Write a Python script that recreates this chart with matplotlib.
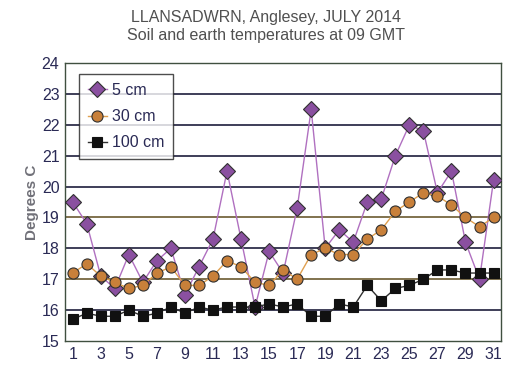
import matplotlib
matplotlib.use('Agg')
import matplotlib.pyplot as plt

# data
days = list(range(1, 32))
t5 = [19.5, 18.8, 17.1, 16.7, 17.8, 16.9, 17.6, 18.0, 16.5, 17.4,
      18.3, 20.5, 18.3, 16.1, 17.9, 17.2, 19.3, 22.5, 18.0, 18.6,
      18.2, 19.5, 19.6, 21.0, 22.0, 21.8, 19.8, 20.5, 18.2, 17.0, 20.2]
t30 = [17.2, 17.5, 17.1, 16.9, 16.7, 16.8, 17.2, 17.4, 16.8, 16.8,
       17.1, 17.6, 17.4, 16.9, 16.8, 17.3, 17.0, 17.8, 18.0, 17.8,
       17.8, 18.3, 18.6, 19.2, 19.5, 19.8, 19.7, 19.4, 19.0, 18.7, 19.0]
t100 = [15.7, 15.9, 15.8, 15.8, 16.0, 15.8, 15.9, 16.1, 15.9, 16.1,
        16.0, 16.1, 16.1, 16.1, 16.2, 16.1, 16.2, 15.8, 15.8, 16.2,
        16.1, 16.8, 16.3, 16.7, 16.8, 17.0, 17.3, 17.3, 17.2, 17.2, 17.2]
xticks = list(range(1, 32, 2))
yticks = list(range(15, 25))

plt.rcParams['font.family'] = ['Liberation Sans', 'DejaVu Sans']

fig = plt.figure(figsize=(5.12, 3.78), dpi=100)
ax = fig.add_axes([0.127, 0.098, 0.852, 0.735])

# gridlines, 17 and 19 are drawn olive in the original
for y in yticks[1:]:
    col = '#6b5a30' if y in (17, 19) else '#1e1e3c'
    ax.axhline(y, color=col, lw=1.2, zorder=1)

ax.plot(days, t5, '-', color='#b070c0', lw=1.0, zorder=3,
        marker='D', ms=8, mfc='#8a50a0', mec='#303030', mew=0.8, label='5 cm')
ax.plot(days, t30, '-', color='#e0a050', lw=1.0, zorder=4,
        marker='o', ms=8, mfc='#c8803a', mec='#303030', mew=0.8, label='30 cm')
ax.plot(days, t100, '-', color='#303030', lw=1.0, zorder=5,
        marker='s', ms=7, mfc='#111111', mec='#111111', mew=0.8, label='100 cm')

ax.set_xlim(0.45, 31.55)
ax.set_ylim(15, 24)
ax.set_xticks(xticks)
ax.set_yticks(yticks)
ax.tick_params(length=0, labelsize=11.5, labelcolor='#2a2a55', pad=4)
ax.set_ylabel('Degrees C', fontsize=11, color='#707078', fontweight='bold', labelpad=2)
for s in ax.spines.values():
    s.set_color('#405040')
    s.set_linewidth(1.0)

leg = ax.legend(loc='upper left', bbox_to_anchor=(0.032, 0.96), fontsize=11.5,
                frameon=True, fancybox=False, edgecolor='#202020',
                borderpad=0.55, labelspacing=0.7, handlelength=1.2,
                handletextpad=0.3, borderaxespad=0)
leg.get_frame().set_linewidth(1.0)
for t in leg.get_texts():
    t.set_color('#2a2a55')

fig.text(0.52, 0.955, 'LLANSADWRN, Anglesey, JULY 2014', ha='center', va='center',
         fontsize=11.5, color='#505050')
fig.text(0.52, 0.907, 'Soil and earth temperatures at 09 GMT', ha='center', va='center',
         fontsize=11.5, color='#505050')

fig.savefig('out.png', dpi=100)
